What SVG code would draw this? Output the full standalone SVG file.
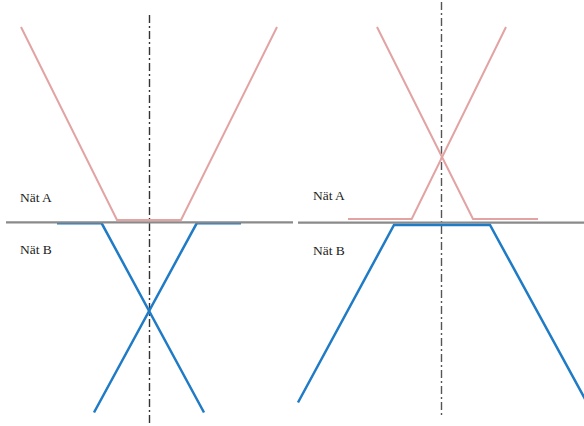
<svg xmlns="http://www.w3.org/2000/svg" width="584" height="426" viewBox="0 0 584 426">
<style>
.pink{fill:none;stroke:#e3a3a3;stroke-width:2;stroke-linejoin:miter}
.blue{fill:none;stroke:#1f7bc6;stroke-width:2.5;stroke-linejoin:miter}
.base{fill:none;stroke:#8a8a8a;stroke-width:2.2}
.axis{fill:none;stroke:#333;stroke-width:1.4;stroke-dasharray:8,3,2,3}
.lbl{font-family:"Liberation Serif","Times New Roman",serif;font-size:13.5px;fill:#222}
</style>
<rect width="584" height="426" fill="#fff"/>
<g id="left-panel">
  <g id="left-axis"><line class="axis" x1="149.5" y1="15" x2="149.5" y2="426"/></g>
  <g id="left-netA"><polyline class="pink" points="21,27 117,220 181,220 277,27"/></g>
  <g id="left-netB">
    <polyline class="blue" points="57,223.3 101.7,223.3 204,412.5"/>
    <polyline class="blue" points="241,223.3 196.7,223.3 94,412.5"/>
  </g>
  <g id="left-base"><line class="base" x1="6" y1="222.3" x2="293" y2="222.3"/></g>
  <g id="left-labels">
    <text class="lbl" x="20" y="201.5">Nät A</text>
    <text class="lbl" x="20" y="254">Nät B</text>
  </g>
</g>
<g id="right-panel">
  <g id="right-axis"><line class="axis" x1="441.5" y1="2" x2="441.5" y2="417" style="stroke:#555"/></g>
  <g id="right-netA">
    <polyline class="pink" points="377,27 473,219 538,219"/>
    <polyline class="pink" points="506,27 411.7,219 348,219"/>
  </g>
  <g id="right-base"><line class="base" x1="298" y1="222.7" x2="584" y2="222.7"/></g>
  <g id="right-netB"><polyline class="blue" points="298,402.5 394,225 490,225 590,408"/></g>
  <g id="right-labels">
    <text class="lbl" x="313" y="200">Nät A</text>
    <text class="lbl" x="313" y="255">Nät B</text>
  </g>
</g>
</svg>
